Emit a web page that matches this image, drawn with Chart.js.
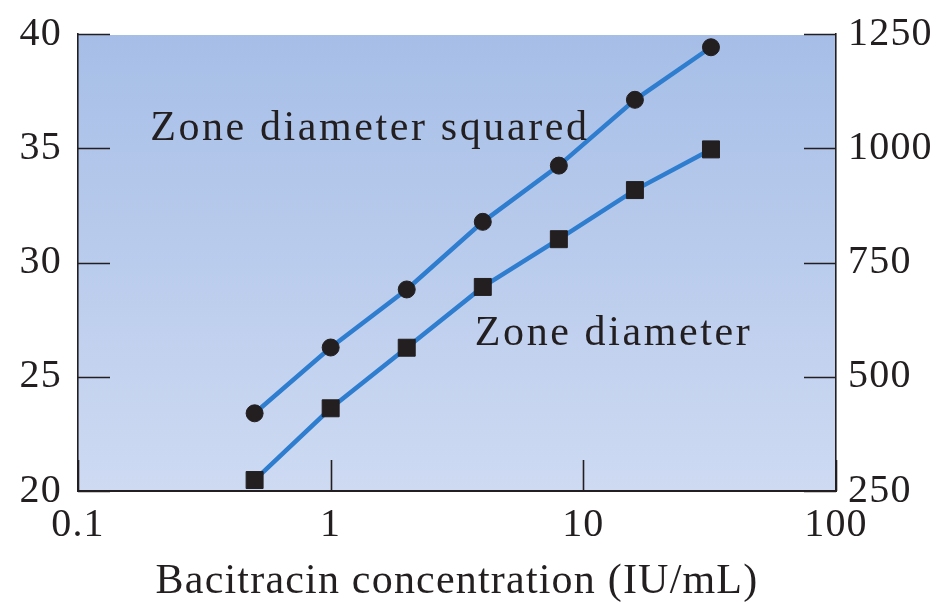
<!DOCTYPE html>
<html><head><meta charset="utf-8">
<script src="https://cdn.jsdelivr.net/npm/chart.js@4"></script>
<style>html,body{margin:0;padding:0;background:#fff}#wrap{width:943px;height:603px}</style>
</head><body><div id="wrap"><canvas id="c" width="943" height="603"></canvas></div>
<script>
// ---- data ----
const concentrations = [0.5, 1, 2, 4, 8, 16, 32];
const zoneDiameter = [20.48, 23.62, 26.27, 28.93, 31.02, 33.17, 34.95];
const zoneDiameterSquared = [420, 564, 691, 839, 962, 1106, 1221];
const xTickValues = [0.1, 1, 10, 100];
const leftTickValues = [20, 25, 30, 35, 40];
const rightTickValues = [250, 500, 750, 1000, 1250];
const seriesLabels = ['Zone diameter squared', 'Zone diameter'];
const xTitle = 'Bacitracin concentration (IU/mL)';

// ---- styles / label anchors (in data coordinates) ----
const FONT = '"Liberation Serif","Times New Roman",serif';
const INK = '#231f20';
const BLUE = '#2e7dcf';
const labelAnchors = [
  {x: 0.193, y: 1018, axis: 'y1'},
  {x: 3.72, y: 26.39, axis: 'y'}
];

const framePlugin = {
  id: 'frame',
  beforeDraw(chart) {
    const {ctx, chartArea: a} = chart;
    ctx.letterSpacing = '1.2px';
    ctx.save();
    const g = ctx.createLinearGradient(0, a.top, 0, a.bottom);
    g.addColorStop(0, '#a6bee7');
    g.addColorStop(1, '#cedaf2');
    ctx.fillStyle = g;
    ctx.fillRect(a.left, a.top + 1, a.right - a.left, a.bottom - a.top - 1);
    ctx.restore();
  },
  beforeDatasetsDraw(chart) {
    const {ctx, chartArea: a, scales} = chart;
    ctx.save();
    ctx.strokeStyle = INK;
    ctx.lineWidth = 1.6;
    ctx.beginPath();
    leftTickValues.forEach(v => {
      const y = Math.round(scales.y.getPixelForValue(v)) + 0.5;
      ctx.moveTo(a.left, y); ctx.lineTo(a.left + 32, y);
    });
    rightTickValues.forEach(v => {
      const y = Math.round(scales.y1.getPixelForValue(v)) + 0.5;
      ctx.moveTo(a.right - 32, y); ctx.lineTo(a.right, y);
    });
    xTickValues.forEach(v => {
      const x = Math.round(scales.x.getPixelForValue(v)) + 0.5;
      ctx.moveTo(x, a.bottom); ctx.lineTo(x, a.bottom - 31);
    });
    ctx.stroke();
    ctx.restore();
  },
  afterDatasetsDraw(chart) {
    const {ctx, scales} = chart;
    ctx.save();
    ctx.font = '42px ' + FONT;
    ctx.letterSpacing = '2.6px';
    ctx.fillStyle = INK;
    ctx.textBaseline = 'alphabetic';
    ctx.textAlign = 'left';
    labelAnchors.forEach((p, i) => {
      ctx.fillText(seriesLabels[i], scales.x.getPixelForValue(p.x), scales[p.axis].getPixelForValue(p.y));
    });
    ctx.restore();
  }
};

const tickFont = {family: FONT, size: 40};
const zeroPad = s => { s.paddingTop = 0; s.paddingBottom = 0; s.paddingLeft = 0; s.paddingRight = 0; };

new Chart(document.getElementById('c'), {
  type: 'line',
  data: {
    datasets: [
      {
        label: seriesLabels[0],
        data: concentrations.map((c, i) => ({x: c, y: zoneDiameterSquared[i]})),
        yAxisID: 'y1',
        borderColor: BLUE, borderWidth: 4.5, tension: 0,
        pointStyle: 'circle', pointRadius: 8.5,
        pointBackgroundColor: INK, pointBorderColor: INK, pointBorderWidth: 1,
        clip: false
      },
      {
        label: seriesLabels[1],
        data: concentrations.map((c, i) => ({x: c, y: zoneDiameter[i]})),
        yAxisID: 'y',
        borderColor: BLUE, borderWidth: 4.5, tension: 0,
        pointStyle: 'rect', pointRadius: 12,
        pointBackgroundColor: INK, pointBorderColor: INK, pointBorderWidth: 1,
        clip: false
      }
    ]
  },
  options: {
    responsive: false,
    animation: false,
    events: [],
    layout: {padding: {top: 34, left: 0, right: 0, bottom: 0}},
    plugins: {legend: {display: false}, tooltip: {enabled: false}},
    scales: {
      x: {
        type: 'logarithmic', position: 'bottom', min: 0.1, max: 100,
        grid: {display: false, drawTicks: false},
        border: {display: true, color: INK, width: 2},
        afterBuildTicks: s => { s.ticks = xTickValues.map(v => ({value: v})); },
        afterFit: s => { s.height = 112; zeroPad(s); },
        ticks: {font: tickFont, color: INK, padding: 10, autoSkip: false, maxRotation: 0,
          callback: v => String(v)},
        title: {display: true, text: xTitle, color: INK,
          font: {family: FONT, size: 42, lineHeight: 1}, padding: {top: 0, bottom: 0}}
      },
      y: {
        type: 'linear', position: 'left', min: 20, max: 40,
        grid: {display: false, drawTicks: false},
        border: {display: true, color: INK, width: 1.6},
        afterBuildTicks: s => { s.ticks = leftTickValues.map(v => ({value: v})); },
        afterFit: s => { s.width = 78; zeroPad(s); },
        ticks: {font: tickFont, color: INK, padding: 16, callback: v => String(v)}
      },
      y1: {
        type: 'linear', position: 'right', min: 250, max: 1250,
        grid: {display: false, drawTicks: false},
        border: {display: true, color: INK, width: 1.6},
        afterBuildTicks: s => { s.ticks = rightTickValues.map(v => ({value: v})); },
        afterFit: s => { s.width = 107; zeroPad(s); },
        ticks: {font: tickFont, color: INK, padding: 12, callback: v => String(v)}
      }
    }
  },
  plugins: [framePlugin]
});
</script>
</body></html>
